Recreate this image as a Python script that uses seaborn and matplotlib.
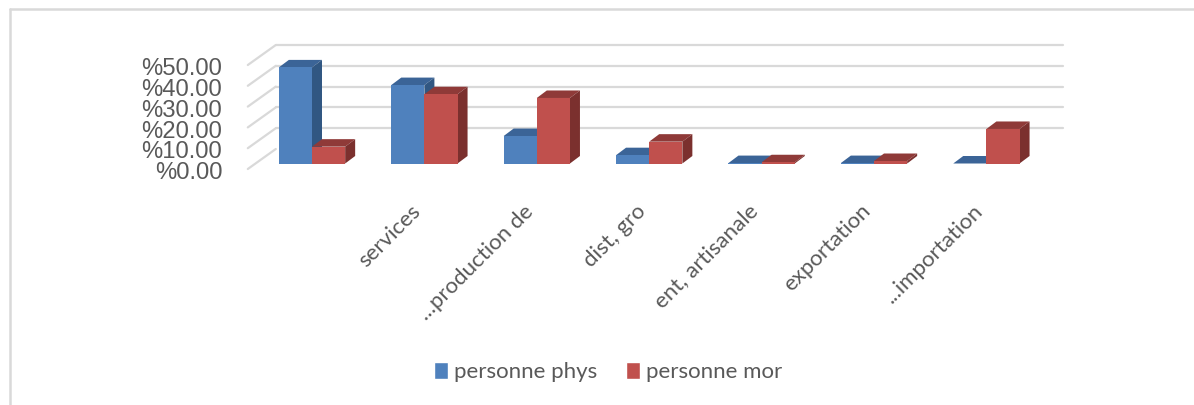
import numpy as np
import pandas as pd
import matplotlib
matplotlib.use("Agg")
import matplotlib.pyplot as plt
from matplotlib.patches import Polygon, Patch
import seaborn as sns

# values
categories = ["", "services", "...production de", "dist, gro", "ent, artisanale", "exportation", "...importation"]
series_names = ["personne phys", "personne mor"]
phys = [46.2, 37.7, 13.2, 4.0, 0.2, 0.2, 0.0]
mor = [8.1, 33.3, 31.5, 10.5, 0.6, 1.2, 16.6]
y_ticks = [0, 10, 20, 30, 40, 50]
y_labels = ["%0.00", "%10.00", "%20.00", "%30.00", "%40.00", "%50.00"]

colors = ["#4F81BD", "#C0504D"]
side_colors = ["#315782", "#7B302E"]
top_colors = ["#3B6497", "#8F3A38"]
grid_col = "#D9D9D9"
text_col = "#595959"

W, H = 1194, 405
sns.set_theme(style="white")
plt.rcParams["font.family"] = ["Liberation Sans", "DejaVu Sans"]

df = pd.DataFrame({
    "cat": list(range(len(categories))) * 2,
    "serie": [series_names[0]] * len(phys) + [series_names[1]] * len(mor),
    "val": phys + mor,
})

fig = plt.figure(figsize=(W / 100, H / 100), dpi=100, facecolor="white")
# axes = front plane of the bars, in pixels
x0, x1, y0, y1 = 255.8, 1042.6, 163.5, 59.5
ax = fig.add_axes([x0 / W, 1 - y0 / H, (x1 - x0) / W, (y0 - y1) / H])
ax.set_zorder(2)
ax.patch.set_alpha(0)

sns.barplot(data=df, x="cat", y="val", hue="serie", palette=colors, order=range(7),
            width=0.59, gap=0, saturation=1, legend=False, ax=ax, zorder=3,
            linewidth=0, edgecolor="none")
ax.set_xlim(-0.5, 6.5)
ax.set_ylim(0, 50)
sns.despine(ax=ax, left=True, bottom=True)
ax.set_xlabel("")
ax.set_ylabel("")
ax.set_xticks([])
ax.set_yticks([])

# pixel -> data units
ux = 7 / (x1 - x0)
uy = 50 / (y0 - y1)
front = (-8 * ux, -5.5 * uy)
back = (20 * ux, 14.5 * uy)
depth = (10 * ux, 7.5 * uy)

# grid on back wall and side wall
for v in y_ticks[1:] + [0]:
    if v > 0:
        ax.plot([-0.5 + back[0], 6.5 + back[0]], [v + back[1]] * 2, color=grid_col, lw=1.6,
                clip_on=False, zorder=1)
    ax.plot([-0.5 + front[0], -0.5 + back[0]], [v + front[1], v + back[1]], color=grid_col, lw=1.6,
            clip_on=False, zorder=1)

# depth faces of each bar
bars = list(ax.patches)
n = len(phys)
for i, b in enumerate(bars[:2 * n]):
    s = i // n
    xa, xb = b.get_x(), b.get_x() + b.get_width()
    h = b.get_height()
    top = Polygon([(xa, h), (xb, h), (xb + depth[0], h + depth[1]), (xa + depth[0], h + depth[1])],
                  closed=True, fc=top_colors[s], ec="none", clip_on=False, zorder=2.5 + s)
    side = Polygon([(xb, 0), (xb + depth[0], depth[1]), (xb + depth[0], h + depth[1]), (xb, h)],
                   closed=True, fc=side_colors[s], ec="none", clip_on=False, zorder=2.5 + s)
    ax.add_patch(top)
    ax.add_patch(side)
    b.set_zorder(2.6 + s)

# value labels on the side wall
for v, lab in zip(y_ticks, y_labels):
    ax.annotate(lab, (-0.5 + front[0], v + front[1]), xytext=(-18.4, -3), textcoords="offset points",
                ha="right", va="center", fontsize=17.2, color=text_col, annotation_clip=False)

# category labels, the first one is empty in the source
for i, lab in enumerate(categories):
    if lab:
        ax.annotate(lab, (i, 0), xytext=(-10, -27), textcoords="offset points", rotation=45,
                    rotation_mode="anchor", ha="right", va="top", fontsize=16, color=text_col,
                    family="Lato", annotation_clip=False)

handles = [Patch(fc=colors[0], label=series_names[0]), Patch(fc=colors[1], label=series_names[1])]
fig.legend(handles=handles, loc="center", bbox_to_anchor=(608 / W, 1 - 372 / H), ncol=2, frameon=False,
           prop={"family": "Lato", "size": 16}, labelcolor=text_col, handlelength=0.63, handleheight=0.85,
           handletextpad=0.27, columnspacing=1.3, borderpad=0)

# chart border
fig.add_artist(plt.Line2D([9.5 / W, 9.5 / W], [0, 1 - 9 / H], color=grid_col, lw=1.8))
fig.add_artist(plt.Line2D([9.5 / W, 1], [1 - 9 / H, 1 - 9 / H], color=grid_col, lw=1.8))

fig.savefig("out.png", dpi=100)
